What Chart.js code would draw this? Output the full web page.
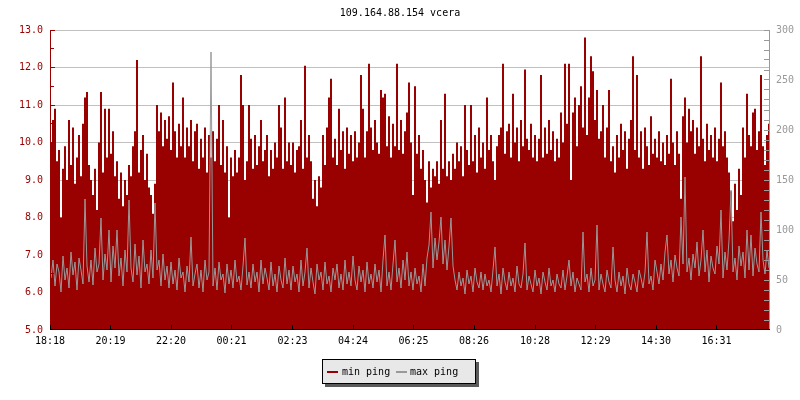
<!DOCTYPE html>
<html><head><meta charset="utf-8">
<script src="https://cdn.jsdelivr.net/npm/chart.js@4.4.1/dist/chart.umd.min.js"></script>
<style>html,body{margin:0;padding:0;background:#fff;}canvas{display:block;}</style>
</head><body>
<canvas id="c" width="800" height="400"></canvas>
<script>
const chartTitle = "109.164.88.154 vcera";
const seriesNames = ["min ping", "max ping"];
const startTime = "18:18";
const stepMinutes = 4;
const spanMinutes = 1440;
const timeTicks = ["18:18","20:19","22:20","00:21","02:23","04:24","06:25","08:26","10:28","12:29","14:30","16:31"];

const minPing = [
10.0,10.6,10.9,9.5,9.8,8.0,9.3,9.9,9.0,10.6,9.4,10.4,8.9,9.6,10.2,9.1,10.5,11.2,11.35,9.4,
9.0,8.6,9.3,8.2,10.0,11.35,9.2,10.9,9.6,10.9,9.7,10.3,9.1,9.5,8.5,9.2,8.3,9.0,8.6,9.4,
9.1,9.9,10.3,12.2,9.2,9.8,10.2,9.0,9.7,8.8,8.6,8.1,8.9,11.0,10.3,10.8,9.9,10.6,10.1,10.7,
9.8,11.6,10.3,9.6,10.5,9.9,11.2,9.6,10.4,9.9,10.6,9.5,10.3,10.5,9.3,10.1,9.6,10.4,9.2,10.2,
9.6,10.3,9.5,10.1,11.0,9.4,10.6,9.2,9.9,8.0,9.6,9.1,9.8,9.2,9.6,11.8,11.0,9.0,9.5,11.0,
10.1,9.3,10.2,9.4,9.9,10.6,9.5,9.8,10.2,9.1,9.8,9.3,10.0,9.6,11.0,10.4,9.3,11.2,9.5,10.0,
9.4,10.0,9.2,9.8,9.9,10.6,9.3,12.05,9.6,10.2,9.5,8.5,9.0,8.3,9.1,8.8,10.2,9.4,10.4,11.2,
11.7,9.6,10.1,9.4,10.9,9.8,10.3,9.3,10.4,9.7,10.2,9.5,10.3,9.6,10.0,11.8,10.9,9.6,10.3,12.1,
10.4,9.8,10.6,10.0,9.7,11.4,11.2,11.3,9.9,10.7,9.6,10.5,9.9,12.1,9.8,10.6,9.7,10.3,10.8,11.6,
10.0,8.6,11.5,9.7,10.2,9.3,9.8,9.0,8.4,9.5,8.8,9.3,9.1,9.5,8.9,10.6,9.3,11.3,9.1,9.5,
9.0,9.7,9.3,10.0,9.5,9.9,9.1,11.0,9.8,9.4,11.0,9.5,10.2,9.2,10.4,9.6,10.0,9.3,11.2,9.8,
10.2,9.5,9.0,9.9,10.2,10.4,12.1,9.7,10.3,10.5,9.6,11.3,10.0,10.4,9.5,10.6,9.9,11.95,10.1,9.8,
10.5,9.6,10.2,9.5,10.1,11.8,9.6,10.4,9.7,10.6,9.8,10.3,9.5,10.1,9.6,10.8,10.0,12.1,10.5,12.1,
9.0,10.8,11.2,9.9,11.0,11.5,10.4,12.8,10.2,11.2,12.3,11.9,10.6,11.4,10.1,10.3,11.0,9.6,10.4,11.4,
9.5,9.9,9.2,10.2,9.6,10.5,9.8,10.3,9.3,10.1,10.6,12.3,9.8,11.8,9.6,10.3,9.3,10.4,9.9,9.4,
10.7,9.7,10.1,9.6,10.3,9.5,10.0,9.4,10.2,9.7,11.7,10.0,9.4,10.3,9.7,8.5,10.7,11.2,10.0,10.9,
10.3,10.6,9.7,10.4,9.9,12.3,10.1,9.5,10.5,9.8,10.2,9.6,10.4,9.5,10.1,11.6,9.9,10.3,9.6,9.2,
8.7,7.9,8.9,8.2,9.3,8.6,10.4,9.6,11.3,10.2,9.9,10.8,10.9,9.8,10.3,11.8,9.9,9.4,10.2,10.5
];

const maxPing = [
52,70,44,66,58,38,74,50,62,42,78,55,68,40,72,60,46,131,64,48,
70,45,82,58,66,112,50,76,60,100,48,84,62,100,54,72,44,80,58,130,
62,48,86,55,74,42,90,58,66,46,80,52,127,60,70,44,76,50,64,42,
68,46,60,40,72,52,58,38,64,48,93,44,56,66,42,60,38,70,50,58,
278,44,62,40,68,50,56,37,66,46,60,42,70,48,54,40,64,92,45,58,
42,66,48,58,38,70,46,62,52,40,68,44,56,38,64,50,42,72,46,60,
40,64,48,56,38,70,44,58,82,42,62,48,36,66,50,58,40,68,46,54,
38,62,50,66,42,56,40,70,46,58,44,74,50,40,64,48,60,38,68,46,
56,42,66,48,60,38,70,95,44,58,40,66,90,48,62,42,70,50,78,44,
58,40,62,46,54,38,66,44,72,85,118,62,92,70,88,113,66,90,60,84,
112,64,50,40,58,44,52,36,60,46,54,38,62,48,42,58,40,56,44,50,
38,60,83,44,56,36,62,48,40,58,44,52,38,64,46,42,56,87,40,54,
46,38,60,44,52,36,58,48,40,62,44,50,38,56,46,42,60,40,54,70,
44,58,38,52,46,40,98,48,56,38,62,44,50,105,40,56,46,38,60,48,
42,83,50,38,58,44,54,36,62,46,40,56,48,38,60,52,42,58,98,46,
54,40,70,58,46,66,50,78,95,56,70,48,75,62,54,113,66,153,58,72,
50,76,62,88,54,70,100,58,80,48,74,62,56,84,66,120,52,78,60,90,
140,58,72,50,84,64,78,52,100,60,95,54,82,66,58,118,70,56,80,62
];

const RED = "#990000";
const GRAY = "#999999";
const FONT = "'DejaVu Sans Mono', monospace";

function minutesOf(t){ const p = t.split(":").map(Number); return p[0]*60 + p[1]; }
const t0 = minutesOf(startTime);
const tickOffsets = timeTicks.map(t => (minutesOf(t) - t0 + 1440) % 1440);
const redData = minPing.map((v,i) => ({x:(i+0.5)*stepMinutes, y:v}));
const grayData = maxPing.map((v,i) => ({x:(i+0.5)*stepMinutes, y:v}));

Chart.defaults.font.family = FONT;
Chart.defaults.font.size = 10;

const decor = {
  id: "decor",
  afterDraw(chart){
    const {ctx, chartArea:a, scales} = chart;
    ctx.save();
    ctx.fillStyle = RED;
    ctx.fillRect(a.left, a.top, 1, a.bottom - a.top);
    for (let v = 5; v <= 13.001; v += 0.5){
      const r = Math.min(Math.floor(scales.y.getPixelForValue(v)), a.bottom - 1);
      ctx.fillRect(a.left, r, (Math.abs(v - Math.round(v)) < 0.01) ? 5 : 4, 1);
    }
    ctx.fillStyle = GRAY;
    ctx.fillRect(a.right - 1, a.top, 1, a.bottom - a.top);
    for (let v = 0; v <= 300; v += 10){
      const r = Math.min(Math.floor(scales.y1.getPixelForValue(v)), a.bottom - 1);
      ctx.fillRect(a.right - 6, r, 5, 1);
    }
    ctx.fillStyle = "#000";
    ctx.fillRect(a.left, a.bottom - 1, a.right - a.left, 1);
    tickOffsets.forEach(m => {
      const c = Math.floor(scales.x.getPixelForValue(m));
      ctx.fillRect(c, a.bottom - 5, 1, 4);
    });
    ctx.font = "10px " + FONT;
    ctx.fillStyle = "#000";
    ctx.textAlign = "center";
    ctx.textBaseline = "middle";
    ctx.fillText(chartTitle, 400, 13);
    const lx = 322, ly = 359, lw = 154, lh = 25;
    ctx.fillStyle = "#5a5a5a";
    ctx.fillRect(lx + 3, ly + 3, lw, lh);
    ctx.fillStyle = "#e8e8e8";
    ctx.fillRect(lx, ly, lw, lh);
    ctx.strokeStyle = "#000";
    ctx.lineWidth = 1;
    ctx.strokeRect(lx + 0.5, ly + 0.5, lw - 1, lh - 1);
    ctx.textAlign = "left";
    ctx.fillStyle = RED;
    ctx.fillRect(327, 371, 11, 2);
    ctx.fillStyle = "#000";
    ctx.fillText(seriesNames[0], 342, 372);
    ctx.fillStyle = GRAY;
    ctx.fillRect(396, 371, 11, 2);
    ctx.fillStyle = "#000";
    ctx.fillText(seriesNames[1], 410, 372);
    ctx.restore();
  }
};

new Chart(document.getElementById("c"), {
  type: "line",
  data: { datasets: [
    { label: seriesNames[0], data: redData, yAxisID: "y", stepped: "middle", fill: "start",
      backgroundColor: RED, borderColor: RED, borderWidth: 0, pointRadius: 0, order: 2 },
    { label: seriesNames[1], data: grayData, yAxisID: "y1", fill: false, tension: 0,
      borderColor: GRAY, borderWidth: 1, pointRadius: 0, order: 1 }
  ]},
  options: {
    responsive: false, animation: false, devicePixelRatio: 1,
    layout: { padding: { top: 30, bottom: 50, left: 0, right: 0 } },
    plugins: { legend: { display: false }, title: { display: false }, tooltip: { enabled: false } },
    scales: {
      x: { type: "linear", min: 0, max: spanMinutes,
        afterBuildTicks: s => { s.ticks = tickOffsets.map(v => ({ value: v })); },
        afterFit: s => { s.height = 20; },
        ticks: { autoSkip: false, maxRotation: 0, color: "#000", padding: 5,
          callback: (v, i) => timeTicks[i] },
        grid: { display: false, drawTicks: false }, border: { display: false } },
      y: { position: "left", min: 5, max: 13,
        afterFit: s => { s.width = 50; },
        ticks: { stepSize: 1, color: RED, padding: 7, callback: v => Number(v).toFixed(1) },
        grid: { color: c => (c.tick && c.tick.value === 5) ? "rgba(0,0,0,0)" : "#c0c0c0", drawTicks: false },
        border: { display: false } },
      y1: { position: "right", min: 0, max: 300,
        afterFit: s => { s.width = 30; },
        ticks: { stepSize: 50, color: GRAY, padding: 6 },
        grid: { display: false, drawTicks: false }, border: { display: false } }
    }
  },
  plugins: [decor]
});
</script>
</body></html>
